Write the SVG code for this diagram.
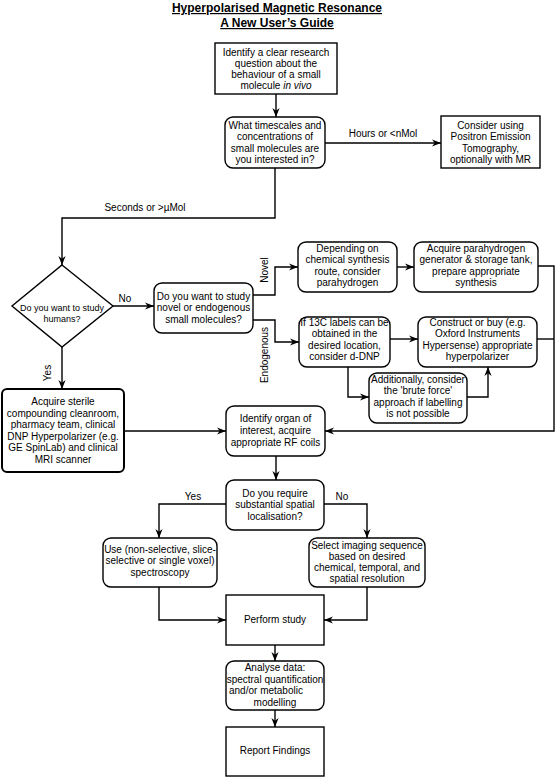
<svg xmlns="http://www.w3.org/2000/svg" width="555" height="777" viewBox="0 0 555 777">
<style>
.t{font-family:"Liberation Sans",Arial,Helvetica,sans-serif;font-size:10px;text-anchor:middle;fill:#000}
.s{font-size:9px}
.ttl{font-family:"Liberation Sans",Arial,Helvetica,sans-serif;font-size:12px;font-weight:bold;text-anchor:middle;text-decoration:underline;fill:#000}
.b{fill:#fff;stroke:#000;stroke-width:1.4}
.bt{fill:#fff;stroke:#000;stroke-width:2}
.c{fill:none;stroke:#000;stroke-width:1.4}
</style>
<defs>
<marker id="ah" viewBox="0 0 10 10" refX="10" refY="5" markerWidth="9" markerHeight="9" markerUnits="userSpaceOnUse" orient="auto">
<path d="M0,1 L10,5 L0,9 L3,5 z" fill="#000"/>
</marker>
</defs>
<rect width="555" height="777" fill="#fff"/>
<g id="title">
<text class="ttl" x="277" y="12">Hyperpolarised Magnetic Resonance</text>
<text class="ttl" x="277" y="27">A New User’s Guide</text>
</g>
<g id="connectors">
<path class="c" d="M276,94 V117" marker-end="url(#ah)"/>
<path class="c" d="M325,143 H441" marker-end="url(#ah)"/>
<path class="c" d="M275,168 V218 H62 V265" marker-end="url(#ah)"/>
<path class="c" d="M113,306 H154" marker-end="url(#ah)"/>
<path class="c" d="M62,347 V389" marker-end="url(#ah)"/>
<path class="c" d="M253,295 H275 V267 H298" marker-end="url(#ah)"/>
<path class="c" d="M253,320 H275 V342 H299" marker-end="url(#ah)"/>
<path class="c" d="M397,267 H414" marker-end="url(#ah)"/>
<path class="c" d="M390,339 H418" marker-end="url(#ah)"/>
<path class="c" d="M348,367 V397 H369" marker-end="url(#ah)"/>
<path class="c" d="M467,397 H488 V367" marker-end="url(#ah)"/>
<path class="c" d="M538,266 H554 V431 H325" marker-end="url(#ah)"/>
<path class="c" d="M537,339 H554"/>
<path class="c" d="M124,431 H226" marker-end="url(#ah)"/>
<path class="c" d="M276,456 V480" marker-end="url(#ah)"/>
<path class="c" d="M226,504 H159 V538" marker-end="url(#ah)"/>
<path class="c" d="M324,504 H367 V538" marker-end="url(#ah)"/>
<path class="c" d="M159,587 V620 H226" marker-end="url(#ah)"/>
<path class="c" d="M367,587 V620 H324" marker-end="url(#ah)"/>
<path class="c" d="M275,645 V661" marker-end="url(#ah)"/>
<path class="c" d="M275,710 V727" marker-end="url(#ah)"/>
<text class="t" x="383" y="137">Hours or &lt;nMol</text>
<text class="t" x="145" y="211">Seconds or &gt;µMol</text>
<text class="t" x="125" y="302">No</text>
<text class="t" transform="translate(51,373) rotate(-90)">Yes</text>
<text class="t" transform="translate(268,270) rotate(-90)">Novel</text>
<text class="t" transform="translate(268,355) rotate(-90)">Endogenous</text>
<text class="t" x="193" y="500">Yes</text>
<text class="t" x="342" y="500">No</text>
</g>
<g id="n1">
<rect class="b" x="215" y="43" width="122" height="51"/>
<text class="t" x="276" y="55.5">Identify a clear research</text>
<text class="t" x="276" y="66.5">question about the</text>
<text class="t" x="276" y="77.5">behaviour of a small</text>
<text class="t" x="276" y="88.5">molecule <tspan font-style="italic">in vivo</tspan></text>
</g>
<g id="n2">
<rect class="b" x="225" y="117" width="100" height="51" rx="8"/>
<text class="t" x="275" y="128.5">What timescales and</text>
<text class="t" x="275" y="140">concentrations of</text>
<text class="t" x="275" y="151.5">small molecules are</text>
<text class="t" x="275" y="163">you interested in?</text>
</g>
<g id="pet">
<rect class="b" x="441" y="116" width="99" height="52"/>
<text class="t" x="490.5" y="128.5">Consider using</text>
<text class="t" x="490.5" y="140">Positron Emission</text>
<text class="t" x="490.5" y="151.5">Tomography,</text>
<text class="t" x="490.5" y="163">optionally with MR</text>
</g>
<g id="humans">
<polygon class="b" points="62,265 113,306 62,347 12,306"/>
<text class="t s" x="62" y="311">Do you want to study</text>
<text class="t s" x="62" y="322">humans?</text>
</g>
<g id="novelq">
<rect class="b" x="154" y="283" width="99" height="50" rx="8"/>
<text class="t" x="203.5" y="299.5">Do you want to study</text>
<text class="t" x="203.5" y="311">novel or endogenous</text>
<text class="t" x="203.5" y="322.5">small molecules?</text>
</g>
<g id="para">
<rect class="b" x="298" y="242" width="99" height="50" rx="8"/>
<text class="t" x="347.5" y="251.5">Depending on</text>
<text class="t" x="347.5" y="263">chemical synthesis</text>
<text class="t" x="347.5" y="274.5">route, consider</text>
<text class="t" x="347.5" y="286">parahydrogen</text>
</g>
<g id="paragen">
<rect class="b" x="414" y="242" width="124" height="50" rx="8"/>
<text class="t" x="476" y="251.5">Acquire parahydrogen</text>
<text class="t" x="476" y="263">generator &amp; storage tank,</text>
<text class="t" x="476" y="274.5">prepare appropriate</text>
<text class="t" x="476" y="286">synthesis</text>
</g>
<g id="c13">
<rect class="b" x="299" y="317" width="91" height="50" rx="8"/>
<text class="t" x="344.5" y="325.5">If 13C labels can be</text>
<text class="t" x="344.5" y="337">obtained in the</text>
<text class="t" x="344.5" y="348.5">desired location,</text>
<text class="t" x="344.5" y="360">consider d-DNP</text>
</g>
<g id="construct">
<rect class="b" x="418" y="317" width="119" height="50" rx="8"/>
<text class="t" x="477.5" y="325.5">Construct or buy (e.g.</text>
<text class="t" x="477.5" y="337">Oxford Instruments</text>
<text class="t" x="477.5" y="348.5">Hypersense) appropriate</text>
<text class="t" x="477.5" y="360">hyperpolarizer</text>
</g>
<g id="brute">
<rect class="b" x="369" y="373" width="98" height="50" rx="8"/>
<text class="t" x="418" y="382.5">Additionally, consider</text>
<text class="t" x="418" y="394">the 'brute force'</text>
<text class="t" x="418" y="405.5">approach if labelling</text>
<text class="t" x="418" y="417">is not possible</text>
</g>
<g id="sterile">
<rect class="bt" x="2" y="389" width="122" height="83" rx="5"/>
<text class="t" x="63" y="405">Acquire sterile</text>
<text class="t" x="63" y="416.5">compounding cleanroom,</text>
<text class="t" x="63" y="428">pharmacy team, clinical</text>
<text class="t" x="63" y="439.5">DNP Hyperpolarizer (e.g.</text>
<text class="t" x="63" y="451">GE SpinLab) and clinical</text>
<text class="t" x="63" y="462.5">MRI scanner</text>
</g>
<g id="organ">
<rect class="b" x="226" y="406" width="99" height="50" rx="8"/>
<text class="t" x="275.5" y="421.5">Identify organ of</text>
<text class="t" x="275.5" y="433.5">interest, acquire</text>
<text class="t" x="275.5" y="445.5">appropriate RF coils</text>
</g>
<g id="spatial">
<rect class="b" x="226" y="480" width="98" height="50" rx="8"/>
<text class="t" x="275" y="496.5">Do you require</text>
<text class="t" x="275" y="508">substantial spatial</text>
<text class="t" x="275" y="519.5">localisation?</text>
</g>
<g id="spectro">
<rect class="b" x="103" y="538" width="114" height="49" rx="8"/>
<text class="t" x="160" y="552.5">Use (non-selective, slice-</text>
<text class="t" x="160" y="564">selective or single voxel)</text>
<text class="t" x="160" y="575.5">spectroscopy</text>
</g>
<g id="imaging">
<rect class="b" x="309" y="538" width="116" height="49" rx="8"/>
<text class="t" x="367" y="548.5">Select imaging sequence</text>
<text class="t" x="367" y="559.5">based on desired</text>
<text class="t" x="367" y="570.5">chemical, temporal, and</text>
<text class="t" x="367" y="581.5">spatial resolution</text>
</g>
<g id="perform">
<rect class="b" x="226" y="595" width="98" height="50"/>
<text class="t" x="275" y="622.5">Perform study</text>
</g>
<g id="analyse">
<rect class="b" x="226" y="661" width="98" height="49" rx="8"/>
<text class="t" x="275" y="670.5">Analyse data:</text>
<text class="t" x="275" y="682.5">spectral quantification</text>
<text class="t" x="229" y="694" style="text-anchor:start">and/or metabolic</text>
<text class="t" x="275" y="705.5">modelling</text>
</g>
<g id="report">
<rect class="b" x="226" y="727" width="98" height="49"/>
<text class="t" x="275" y="754">Report Findings</text>
</g>
</svg>
